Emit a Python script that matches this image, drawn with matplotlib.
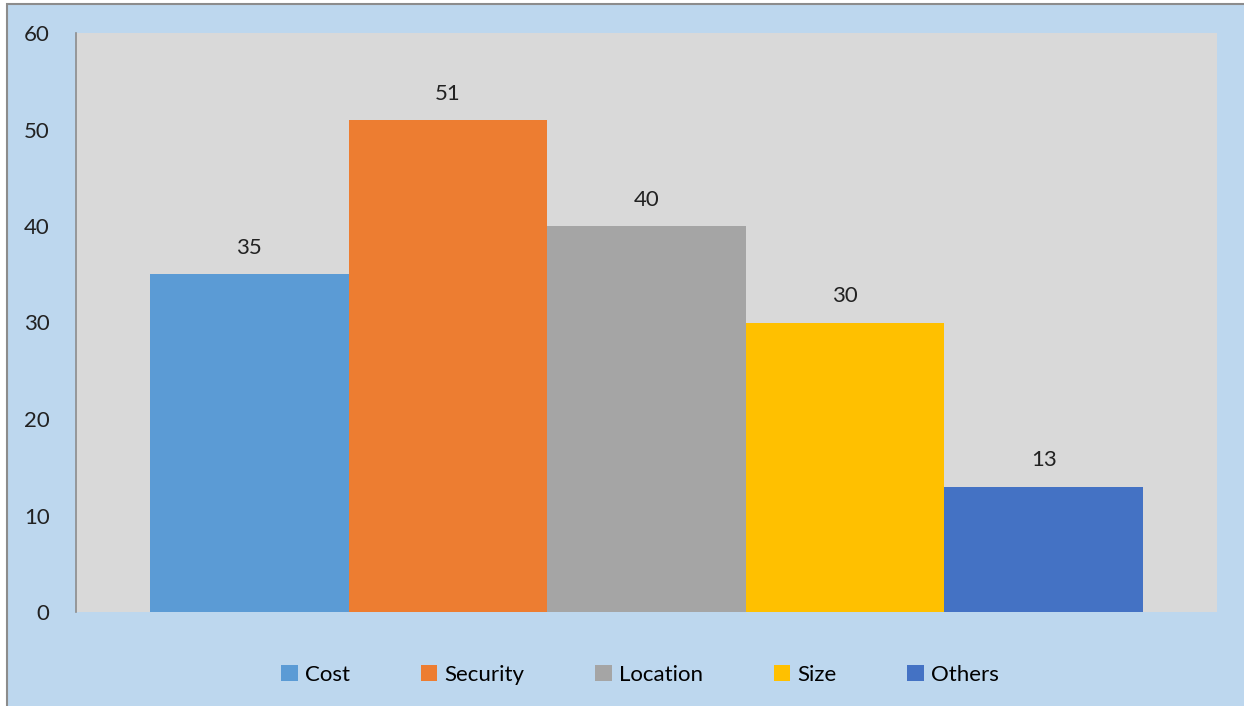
import matplotlib.pyplot as plt
from matplotlib.patches import Rectangle

categories = ['Cost', 'Security', 'Location', 'Size', 'Others']
values = [35, 51, 40, 30, 13]
colors = ['#5B9BD5', '#ED7D31', '#A5A5A5', '#FFC000', '#4472C4']

plt.rcParams['font.family'] = ['Lato', 'DejaVu Sans']

fig = plt.figure(figsize=(12.44, 7.06), dpi=100)
fig.patch.set_facecolor('white')
# chart area frame, drawn behind the axes (right/bottom edges run off the image)
fig.patches.append(Rectangle((7 / 1244, -0.01), 1.02, 1.01 - 4 / 706,
                             transform=fig.transFigure, facecolor='#BDD7EE',
                             edgecolor='#8C8C8C', linewidth=1.5, zorder=-5))

ax = fig.add_axes([76 / 1244, 1 - 612 / 706, (1217 - 76) / 1244, (612 - 33) / 706])
ax.set_facecolor('#D9D9D9')

for i, (c, v, col) in enumerate(zip(categories, values, colors)):
    ax.bar(i, v, width=1.0, color=col, label=c, zorder=2)
    ax.text(i, v + 2.7, str(v), ha='center', va='center', fontsize=16, color='#222222')

ax.set_xlim(-0.873, 4.873)
ax.set_ylim(0, 60)
ax.set_yticks(range(0, 61, 10))
ax.set_xticks([])
ax.tick_params(axis='y', length=0, labelsize=16, pad=19, colors='#222222')
for s in ['top', 'right', 'bottom']:
    ax.spines[s].set_visible(False)
ax.spines['left'].set_color('#8C8C8C')
ax.spines['left'].set_linewidth(1.2)

fig.legend(loc='center', bbox_to_anchor=(640 / 1244, 1 - 675 / 706), ncol=5,
           frameon=False, fontsize=16, handlelength=0.75, handleheight=0.75,
           handletextpad=0.3, columnspacing=3.2)

fig.savefig('out.png', dpi=100, facecolor=fig.get_facecolor())
